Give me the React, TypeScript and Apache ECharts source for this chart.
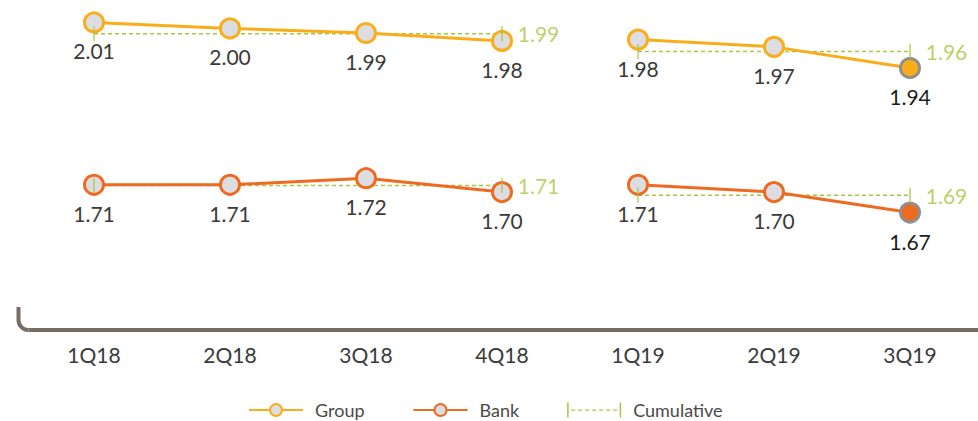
import React, { useEffect, useRef } from "react";
import * as echarts from "echarts";

const quarters = ["1Q18", "2Q18", "3Q18", "4Q18", "1Q19", "2Q19", "3Q19"];
// values; labels show 2 decimals
const groupValues = [2.006, 1.997, 1.99, 1.978, 1.98, 1.969, 1.937];
const bankValues = [1.71, 1.71, 1.72, 1.699, 1.71, 1.699, 1.668];
// cumulative (year-to-date) per year span
const groupCumulative = [1.989, 1.962];
const bankCumulative = [1.709, 1.694];
const yearSpans = [
  [0, 3],
  [4, 6],
];

const ORANGE = "#f9ad1b";
const RED_ORANGE = "#ee6a21";
const GREEN = "#a8c540";
const MARKER_FILL = "#dcdde0";
const TEXT = "#3a3a3a";
const FONT = "Lato";

const fmt = (v: number) => Number(v).toFixed(2);

function mainSeries(name: string, values: number[], color: string, yAxisIndex: number) {
  return yearSpans.map(([s, e]) => ({
    type: "line",
    name,
    yAxisIndex,
    z: 3,
    symbol: "circle",
    symbolSize: 19,
    lineStyle: { color, width: 3 },
    itemStyle: { color: MARKER_FILL, borderColor: color, borderWidth: 3 },
    label: {
      show: true,
      position: "bottom",
      distance: 7,
      color: TEXT,
      fontSize: 21,
      fontFamily: FONT,
      formatter: (p: any) => fmt(p.value),
    },
    emphasis: { disabled: true },
    data: quarters.map((_, i) => {
      if (i < s || i > e) return null;
      if (i === quarters.length - 1) {
        return {
          value: values[i],
          itemStyle: { color, borderColor: "#8f8f8f" },
          label: { color: "#1c1c1c" },
        };
      }
      return values[i];
    }),
  }));
}

function cumulativeSeries(cum: number[], yAxisIndex: number) {
  const lines = yearSpans.map(([s, e], k) => ({
    type: "line",
    name: "Cumulative",
    yAxisIndex,
    z: 2,
    showSymbol: false,
    symbol: "none",
    lineStyle: { color: GREEN, width: 1.5, type: [4, 3] },
    itemStyle: { color: GREEN },
    emphasis: { disabled: true },
    data: quarters.map((_, i) => (i < s || i > e ? null : cum[k])),
  }));
  const ticks = {
    type: "scatter",
    name: "cumulative-ticks",
    yAxisIndex,
    z: 4,
    symbol: "rect",
    symbolSize: [1.5, 15],
    itemStyle: { color: GREEN },
    emphasis: { disabled: true },
    data: yearSpans.flatMap(([s, e], k) => [
      { value: [s, cum[k]] },
      {
        value: [e, cum[k]],
        label: {
          show: true,
          position: "right",
          distance: 15,
          color: GREEN,
          fontSize: 21,
          fontFamily: FONT,
          formatter: (p: any) => fmt(p.value[1]),
        },
      },
    ]),
  };
  return [...lines, ticks];
}

const cumulativeIcon =
  "path://M0,0h1.5v15h-1.5z M52.5,0h1.5v15h-1.5z " +
  [4, 11, 18, 25, 32, 39, 46].map((x) => `M${x},7h4v1.3h-4z`).join(" ");

export default function App() {
  const ref = useRef<HTMLDivElement>(null);
  useEffect(() => {
    if (!ref.current) return;
    const chart = echarts.init(ref.current, null, { renderer: "svg" });
    chart.setOption({
      animation: false,
      grid: { left: 26, right: -10, top: 0, bottom: 91 },
      xAxis: {
        type: "category",
        data: quarters,
        boundaryGap: true,
        axisLine: { show: false },
        axisTick: { show: false },
        axisLabel: { color: TEXT, fontSize: 21, fontFamily: FONT, margin: 14 },
      },
      yAxis: [
        { type: "value", min: 1.54, max: 2.04, show: false },
        { type: "value", min: 1.49, max: 1.99, show: false },
      ],
      legend: {
        left: 248,
        top: 401,
        padding: 0,
        itemWidth: 54,
        itemHeight: 15,
        itemGap: 48,
        selectedMode: false,
        textStyle: { color: "#4a4a4a", fontSize: 18, fontFamily: FONT, padding: [0, 0, 0, 7] },
        data: [
          "Group",
          "Bank",
          { name: "Cumulative", icon: cumulativeIcon, itemStyle: { color: GREEN, borderWidth: 0 } },
        ],
      },
      graphic: [
        {
          type: "group",
          silent: true,
          children: [
            {
              type: "line",
              shape: { x1: 18.5, y1: 307, x2: 18.5, y2: 320 },
              style: { stroke: "#786d62", lineWidth: 4 },
            },
            {
              type: "arc",
              shape: { cx: 28.5, cy: 320, r: 10, startAngle: Math.PI / 2, endAngle: Math.PI, clockwise: true },
              style: { stroke: "#786d62", lineWidth: 4, fill: "none" },
            },
            {
              type: "line",
              shape: { x1: 28.5, y1: 330, x2: 978, y2: 330 },
              style: { stroke: "#786d62", lineWidth: 4 },
            },
          ],
        },
      ],
      series: [
        ...cumulativeSeries(groupCumulative, 0),
        ...cumulativeSeries(bankCumulative, 1),
        ...mainSeries("Group", groupValues, ORANGE, 0),
        ...mainSeries("Bank", bankValues, RED_ORANGE, 1),
      ],
    });
    return () => chart.dispose();
  }, []);
  return (
    <div
      ref={ref}
      style={{ position: "absolute", left: 0, top: 0, width: 978, height: 421, overflow: "hidden" }}
    />
  );
}
